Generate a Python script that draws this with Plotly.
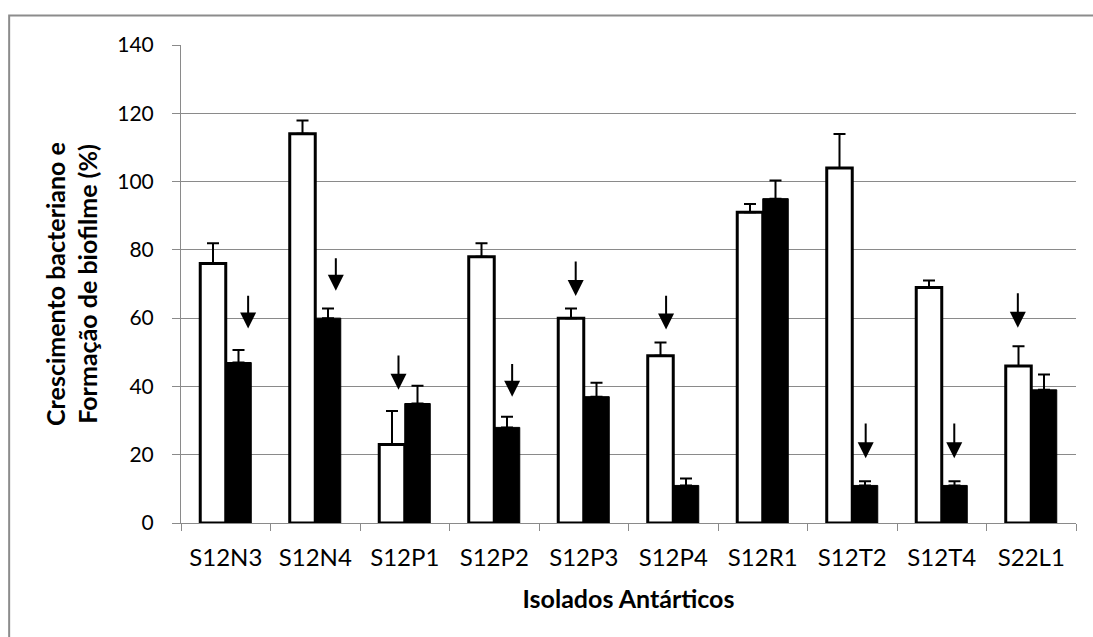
import plotly.graph_objects as go

categories = ["S12N3", "S12N4", "S12P1", "S12P2", "S12P3", "S12P4", "S12R1", "S12T2", "S12T4", "S22L1"]
crescimento = [76, 114, 23, 78, 60, 49, 91, 104, 69, 46]
crescimento_err = [5.9, 3.9, 9.8, 3.9, 2.8, 3.9, 2.4, 9.9, 2.0, 5.8]
biofilme = [47, 60, 35, 28, 37, 11, 95, 11, 11, 39]
biofilme_err = [3.7, 2.8, 5.2, 3.1, 4.1, 2.0, 5.3, 1.2, 1.2, 4.5]

# arrows marking significant decreases: category index, offset within category, tail value, tip value
arrow_index = [0, 1, 2, 3, 4, 5, 7, 8, 9]
arrow_offset = [0.25, 0.23, -0.07, 0.20, -0.09, -0.08, 0.15, 0.14, -0.15]
arrow_tail = [67, 78, 49.5, 47, 77, 67, 29.6, 29.6, 67.7]
arrow_tip = [57, 68, 39, 37, 66.5, 56.7, 19, 19, 57.2]

y_ticks = [0, 20, 40, 60, 80, 100, 120, 140]

FONT = "Lato"
GRID = "#8a8a8a"

fig = go.Figure()
fig.add_trace(go.Bar(
    x=categories, y=crescimento, name="Crescimento bacteriano",
    marker=dict(color="white", line=dict(color="black", width=3)),
    error_y=dict(type="data", symmetric=False, array=crescimento_err,
                 arrayminus=[0] * len(crescimento_err), color="black", thickness=2, width=6),
))
fig.add_trace(go.Bar(
    x=categories, y=biofilme, name="Formação de biofilme",
    marker=dict(color="black", line=dict(color="black", width=1)),
    error_y=dict(type="data", symmetric=False, array=biofilme_err,
                 arrayminus=[0] * len(biofilme_err), color="black", thickness=2, width=6),
))

for i, off, tail, tip in zip(arrow_index, arrow_offset, arrow_tail, arrow_tip):
    fig.add_annotation(
        x=i + off, y=tip, ax=i + off, ay=tail, xref="x", yref="y", axref="x", ayref="y",
        text="", showarrow=True, arrowhead=2, arrowsize=1.6, arrowwidth=2,
        arrowcolor="black", standoff=0, startstandoff=0,
    )

# outer chart-area border
fig.add_shape(type="rect", xref="paper", yref="paper",
              x0=-0.192, x1=1.2, y0=-0.4, y1=1.0617,
              line=dict(color="#8c8c8c", width=2), fillcolor="rgba(0,0,0,0)", layer="below")

fig.update_layout(
    width=1093, height=637,
    margin=dict(l=181, r=17, t=44.5, b=114.3, autoexpand=False),
    paper_bgcolor="white", plot_bgcolor="white",
    barmode="group", bargap=0.43, bargroupgap=0,
    showlegend=False,
    font=dict(family=FONT, size=21, color="black"),
    xaxis=dict(
        type="category", showgrid=False, showline=True, linecolor=GRID, linewidth=1,
        ticks="outside", tickson="boundaries", ticklen=7, tickcolor=GRID, tickwidth=1,
        tickfont=dict(family=FONT, size=24, color="black"), ticklabelstandoff=13,
        title=dict(text="Isolados Antárticos", font=dict(family=FONT, size=25, weight="bold"), standoff=20),
        range=[-0.5, 9.5],
    ),
    yaxis=dict(
        range=[0, 140], tickvals=y_ticks, showgrid=True, gridcolor=GRID, gridwidth=1,
        showline=True, linecolor=GRID, linewidth=1, zeroline=False,
        ticks="outside", ticklen=8, tickcolor=GRID, tickwidth=1,
        tickfont=dict(family=FONT, size=21, color="black"), ticklabelstandoff=14,
        title=dict(text="Crescimento bacteriano e<br>Formação de biofilme (%)",
                   font=dict(family=FONT, size=25, weight="bold"), standoff=12),
    ),
)

fig.write_html("out.html", config={"displayModeBar": False},
               post_script="document.body.style.margin='0';document.body.style.overflow='hidden';")
